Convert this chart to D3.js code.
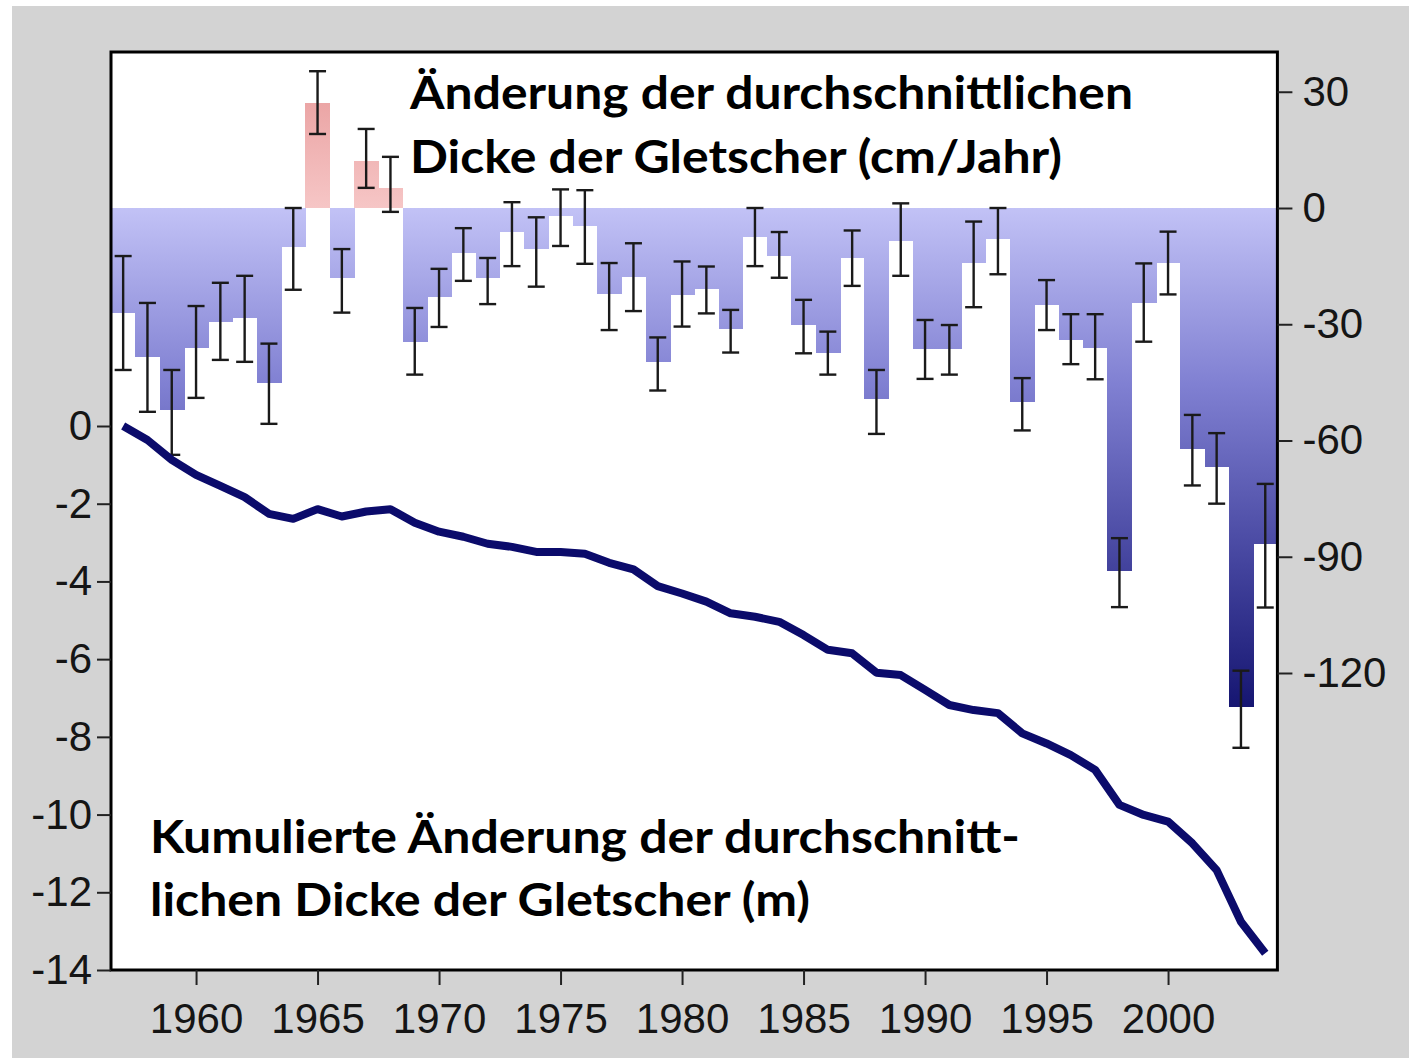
<!DOCTYPE html>
<html><head><meta charset="utf-8">
<script src="https://cdn.jsdelivr.net/npm/d3@7"></script>
<style>html,body{margin:0;padding:0;background:#fff;}svg{display:block;}</style>
</head><body>
<script>
const years = d3.range(1957, 2005);
const annualChange = [-27, -38.4, -52, -36, -29.4, -28.4, -45.1, -10, 27, -18,
  12.1, 5.2, -34.5, -23, -11.6, -18, -6.2, -10.6, -2.1, -4.6,
  -22.2, -17.7, -39.7, -22.4, -21, -31.2, -7.5, -12.3, -30.3, -37.3,
  -12.9, -49.3, -8.4, -36.5, -36.5, -14.3, -8.1, -50, -25, -34,
  -36, -93.6, -24.4, -14.3, -62.2, -66.9, -128.8, -86.7];
const errHigh = [-12.4, -24.5, -41.8, -25.3, -19.3, -17.5, -35, 0, 35.3, -10.6,
  20.4, 13.2, -25.8, -15.7, -5.2, -12.9, 1.5, -2.4, 4.8, 4.6,
  -14.2, -9.1, -33.4, -13.8, -15.1, -26.3, 0, -6.2, -23.7, -31.9,
  -5.8, -41.8, 1.2, -28.9, -30.2, -3.5, 0, -43.9, -18.6, -27.4,
  -27.4, -85.2, -14.3, -6.1, -53.4, -58.1, -119.4, -71.2];
const errLow = [-41.8, -52.6, -63.7, -49, -39.2, -39.7, -55.7, -21.1, 19.1, -27,
  5.2, -1.0, -43, -30.7, -18.8, -24.8, -15, -20.3, -9.8, -14.4,
  -31.5, -26.6, -47.1, -30.6, -27.2, -37.3, -15, -18, -37.5, -43,
  -20.1, -58.3, -17.5, -44.1, -43, -25.6, -17.1, -57.4, -31.5, -40.3,
  -44.2, -103, -34.5, -22.3, -71.6, -76.3, -139.3, -103.1];
const cumulative = [0, -0.36, -0.87, -1.26, -1.54, -1.83, -2.26, -2.39, -2.14, -2.33,
  -2.2, -2.14, -2.49, -2.72, -2.85, -3.03, -3.11, -3.24, -3.24, -3.29,
  -3.52, -3.69, -4.12, -4.31, -4.52, -4.82, -4.91, -5.04, -5.38, -5.76,
  -5.85, -6.35, -6.41, -6.79, -7.18, -7.31, -7.39, -7.91, -8.17, -8.47,
  -8.85, -9.75, -10.01, -10.18, -10.74, -11.43, -12.76, -13.57];
const xTicks = [1960, 1965, 1970, 1975, 1980, 1985, 1990, 1995, 2000];
const leftTicks = [0, -2, -4, -6, -8, -10, -12, -14];
const rightTicks = [30, 0, -30, -60, -90, -120];
const titleTop = ["Änderung der durchschnittlichen", "Dicke der Gletscher (cm/Jahr)"];
const titleBottom = ["Kumulierte Änderung der durchschnitt-", "lichen Dicke der Gletscher (m)"];

const W = 1409, H = 1060;
const plot = {left: 111, right: 1277.4, top: 52, bottom: 970};

const svg = d3.select("body").append("svg").attr("width", W).attr("height", H);

const x = d3.scaleLinear().domain([1956.5, 2004.5]).range([plot.left, plot.right]);
const yL = d3.scaleLinear().domain([0, -14]).range([426, 970]);
const yR = d3.scaleLinear().domain([0, -120]).range([208, 673]);

// background
svg.append("rect").attr("x", 12).attr("y", 6).attr("width", W - 12).attr("height", H - 8).attr("fill", "#d3d3d3");
svg.append("rect").attr("x", plot.left).attr("y", plot.top).attr("width", plot.right - plot.left)
  .attr("height", plot.bottom - plot.top).attr("fill", "#fff");

const defs = svg.append("defs");
const gNeg = defs.append("linearGradient").attr("id", "gNeg").attr("gradientUnits", "userSpaceOnUse")
  .attr("x1", 0).attr("x2", 0).attr("y1", yR(0)).attr("y2", yR(-130));
[["0%", "#c2c2f6"], ["35%", "#8080d2"], ["70%", "#45459f"], ["100%", "#141470"]].forEach(s =>
  gNeg.append("stop").attr("offset", s[0]).attr("stop-color", s[1]));
const gPos = defs.append("linearGradient").attr("id", "gPos").attr("gradientUnits", "userSpaceOnUse")
  .attr("x1", 0).attr("x2", 0).attr("y1", yR(0)).attr("y2", yR(30));
gPos.append("stop").attr("offset", "0%").attr("stop-color", "#f6c6c6");
gPos.append("stop").attr("offset", "100%").attr("stop-color", "#eaa2a2");

const data = years.map((yr, i) => ({yr, v: annualChange[i], hi: errHigh[i], lo: errLow[i], c: cumulative[i]}));

// bars
svg.append("g").attr("shape-rendering", "crispEdges").selectAll("rect").data(data).join("rect")
  .attr("x", d => x(d.yr - 0.5))
  .attr("width", d => x(d.yr + 0.5) - x(d.yr - 0.5) + 0.6)
  .attr("y", d => yR(Math.max(0, d.v)))
  .attr("height", d => Math.abs(yR(d.v) - yR(0)))
  .attr("fill", d => d.v >= 0 ? "url(#gPos)" : "url(#gNeg)");

// error bars
const eb = svg.append("g").attr("stroke", "#1a1a1a").attr("stroke-width", 2.4);
const capW = 8.5;
data.forEach(d => {
  const cx = x(d.yr);
  eb.append("line").attr("x1", cx).attr("x2", cx).attr("y1", yR(d.hi)).attr("y2", yR(d.lo));
  eb.append("line").attr("x1", cx - capW).attr("x2", cx + capW).attr("y1", yR(d.hi)).attr("y2", yR(d.hi));
  eb.append("line").attr("x1", cx - capW).attr("x2", cx + capW).attr("y1", yR(d.lo)).attr("y2", yR(d.lo));
});

// cumulative line
const line = d3.line().x(d => x(d.yr)).y(d => yL(d.c));
svg.append("path").datum(data).attr("d", line).attr("fill", "none")
  .attr("stroke", "#0b0b6b").attr("stroke-width", 8).attr("stroke-linejoin", "round");

// frame
svg.append("rect").attr("x", plot.left).attr("y", plot.top).attr("width", plot.right - plot.left)
  .attr("height", plot.bottom - plot.top).attr("fill", "none").attr("stroke", "#000").attr("stroke-width", 3);

// axes
const axisFont = "'Liberation Sans', Arial, sans-serif";
const gx = svg.append("g").attr("transform", `translate(0,${plot.bottom})`)
  .call(d3.axisBottom(x).tickValues(xTicks).tickFormat(d3.format("d")).tickSize(15).tickPadding(18));
const gl = svg.append("g").attr("transform", `translate(${plot.left},0)`)
  .call(d3.axisLeft(yL).tickValues(leftTicks).tickFormat(d3.format("d")).tickSize(14).tickPadding(5));
const gr = svg.append("g").attr("transform", `translate(${plot.right},0)`)
  .call(d3.axisRight(yR).tickValues(rightTicks).tickFormat(d3.format("d")).tickSize(15).tickPadding(10));
[gx, gl, gr].forEach(g => {
  g.attr("font-family", axisFont);
  g.select(".domain").remove();
  g.selectAll(".tick line").attr("stroke", "#222").attr("stroke-width", 2);
  g.selectAll(".tick text").attr("font-family", axisFont).attr("font-size", 42).attr("fill", "#151515");
});
gl.selectAll(".tick text").text(d => d === 0 ? "0" : "-" + Math.abs(d));
gr.selectAll(".tick text").text(d => d < 0 ? "-" + Math.abs(d) : String(d));

// titles
const titleFont = "Lato, 'Open Sans', sans-serif";
const topLines = [{t: titleTop[0], x: 410, y: 109, w: 723}, {t: titleTop[1], x: 410, y: 173, w: 652}];
const botLines = [{t: titleBottom[0], x: 150, y: 853, w: 870}, {t: titleBottom[1], x: 150, y: 916, w: 660}];
svg.append("g").selectAll("text").data(topLines.concat(botLines)).join("text")
  .attr("x", d => d.x).attr("y", d => d.y)
  .attr("font-family", titleFont).attr("font-weight", 700).attr("font-size", 45)
  .attr("fill", "#000")
  .attr("textLength", d => d.w).attr("lengthAdjust", "spacingAndGlyphs")
  .text(d => d.t);
</script>
</body></html>
